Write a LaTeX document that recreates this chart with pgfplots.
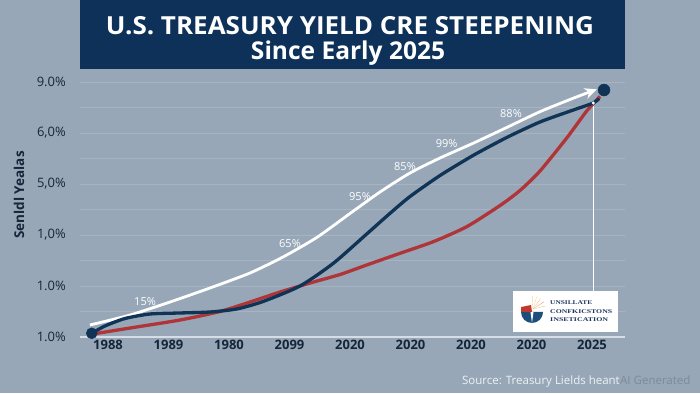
\documentclass[border=0pt]{standalone}
\usepackage{fontspec}
\setmainfont{Open Sans}
\newfontfamily\logofont{Liberation Serif}
\usepackage{pgfplots}
\pgfplotsset{compat=1.18}
\usetikzlibrary{arrows.meta}
\definecolor{bg}{HTML}{97A7B7}
\definecolor{titlec}{HTML}{0D3158}
\definecolor{navyl}{HTML}{0F3456}
\definecolor{redl}{HTML}{B03538}
\definecolor{gridc}{HTML}{A6B4C2}
\definecolor{bottomc}{HTML}{D6DDE4}
\definecolor{tickc}{HTML}{15263B}
\definecolor{srcc}{HTML}{EEF1F4}
\definecolor{aic}{HTML}{7C8B99}
\definecolor{logoblue}{HTML}{1E4F7C}
\definecolor{logored}{HTML}{C0392B}
\definecolor{logoorange}{HTML}{F0A030}
\definecolor{logotext}{HTML}{1F3560}
\begin{document}
\begin{tikzpicture}[x=1pt,y=1pt]
\fill[bg] (0,0) rectangle (700,393);
\path[use as bounding box] (0,0) rectangle (700,393);
\fill[titlec] (80,324) rectangle (625,393);
\node[text=white, inner sep=0pt] at (350,367) {\resizebox{488pt}{18pt}{\bfseries U.S. TREASURY YIELD CRE STEEPENING}};
\node[text=white, anchor=base, inner sep=0pt] at (348,333) {\resizebox{194pt}{!}{\bfseries Since Early 2025}};
\node[rotate=90, text=tickc] at (19,198) {\fontsize{13.5}{13.5}\selectfont\bfseries Senldl Yealas};
\begin{axis}[
  at={(80pt,56pt)}, anchor=south west, scale only axis,
  width=545pt, height=255pt,
  xmin=-0.463, xmax=8.545, ymin=0, ymax=5,
  clip=false,
  axis line style={draw=none}, tick style={draw=none},
  xtick={0,...,8},
  xticklabels={1988,1989,1980,2099,2020,2020,2020,2020,2025},
  ytick={0,...,5},
  yticklabels={1.0\%,1.0\%,{1,0\%},{5,0\%},{6,0\%},9.0\%},
  minor ytick={0.5,1.5,2.5,3.5,4.5},
  ymajorgrids, yminorgrids,
  major grid style={gridc, line width=0.8pt},
  minor grid style={gridc, line width=0.8pt},
  extra y ticks={0}, extra y tick labels={},
  extra y tick style={major grid style={bottomc, line width=1.6pt}},
  xticklabel style={text=tickc, font=\fontsize{13}{13}\selectfont\bfseries},
  yticklabel style={text=tickc, font=\fontsize{13}{13}\selectfont, anchor=east, inner sep=0pt, xshift=-14pt},
]
\addplot[white, line width=2.8pt, smooth, tension=0.4, -{Stealth[length=12pt,width=11pt]}] coordinates {
(-0.298,0.235) (0.364,0.431) (1.025,0.686) (1.686,0.961) (2.347,1.255) (2.893,1.569) (3.450,1.951) (4.000,2.422) (4.496,2.843) (4.992,3.216) (5.488,3.510) (6.033,3.798) (6.590,4.108) (7.140,4.418) (7.686,4.680) (8.078,4.857)};
\addplot[white, line width=1.4pt] coordinates {(8.021,0.902) (8.021,4.588)};
\addplot[redl, line width=3.3pt, smooth, tension=0.4] coordinates {
(-0.248,0.059) (0.364,0.176) (1.190,0.333) (1.851,0.500) (2.347,0.686) (2.843,0.882) (3.339,1.059) (3.835,1.225) (4.276,1.412) (4.826,1.641) (5.377,1.869) (5.929,2.163) (6.479,2.578) (6.810,2.873) (7.140,3.255) (7.582,3.902) (7.912,4.431) (8.132,4.716)};
\addplot[navyl, line width=3.3pt, smooth, tension=0.4] coordinates {
(-0.269,0.073) (-0.050,0.216) (0.281,0.363) (0.694,0.451) (1.190,0.471) (1.686,0.490) (2.127,0.549) (2.562,0.696) (3.174,1.000) (3.724,1.445) (4.276,2.020) (4.661,2.425) (4.992,2.755) (5.488,3.167) (6.033,3.559) (6.590,3.912) (7.140,4.216) (7.691,4.451) (8.021,4.588) (8.116,4.676)};
\addplot[only marks, mark=*, mark size=5.5pt, navyl] coordinates {(-0.269,0.073)};
\addplot[only marks, mark=*, mark size=6pt, navyl] coordinates {(8.198,4.843)};
\addplot[only marks, mark=*, mark size=1.4pt, white] coordinates {(8.021,4.588)};
\foreach \xx/\yy/\tt in {0.612/0.692/15, 3.008/1.837/65, 4.165/2.751/95, 4.909/3.339/85, 5.598/3.798/99, 6.661/4.386/88}{
  \edef\tmp{\noexpand\node[text=white, font=\noexpand\fontsize{11}{11}\noexpand\selectfont] at (axis cs:\xx,\yy) {\tt\noexpand\%};}\tmp
}
\end{axis}
% logo box
\fill[white] (513,61) rectangle (618,102);
\fill[logoblue] (521,81) arc[start angle=180, end angle=360, radius=11] -- cycle;
\fill[white] (532,70) -- (530.5,81) -- (533.5,81) -- cycle;
\fill[logored] (521,81) -- (521,86) -- (531,88) -- (532,81) -- cycle;
\foreach \a/\c in {20/logoorange,40/logored!60!logoorange,60/logoorange,80/logoorange!70!yellow,100/logoorange}{
  \fill[\c] (533,84) -- ++(\a-7:12) -- ++(\a+7:1) -- cycle;
}
\node[anchor=west, inner sep=0pt, text=logotext] at (550,90) {\resizebox{42pt}{3.8pt}{\logofont\bfseries UNSILLATE}};
\node[anchor=west, inner sep=0pt, text=logotext] at (550,81.5) {\resizebox{62pt}{3.8pt}{\logofont\bfseries CONFKICSTONS}};
\node[anchor=west, inner sep=0pt, text=logotext] at (550,73) {\resizebox{58pt}{3.8pt}{\logofont\bfseries INSETICATION}};
\node[anchor=base east, inner sep=0pt, text=srcc] at (620,8.5) {\fontsize{11.5}{11.5}\selectfont Source: Treasury Lields heant};
\node[anchor=base west, inner sep=0pt, text=aic] at (620,8.5) {\fontsize{11.5}{11.5}\selectfont AI Generated};
\end{tikzpicture}
\end{document}
